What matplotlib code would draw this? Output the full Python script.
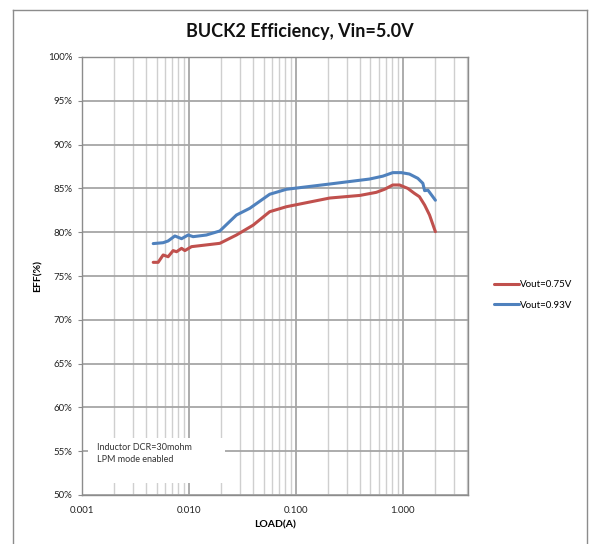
import matplotlib
matplotlib.use("Agg")
import matplotlib.pyplot as plt
from matplotlib.ticker import FixedLocator, NullFormatter, LogLocator
from matplotlib.lines import Line2D
from matplotlib.patches import Rectangle

plt.rcParams['font.family'] = ['Lato', 'DejaVu Sans']

title = "BUCK2 Efficiency, Vin=5.0V"
x_label = "LOAD(A)"
y_label = "EFF(%)"
series_names = ["Vout=0.75V", "Vout=0.93V"]
note_text = "Inductor DCR=30mohm\nLPM mode enabled"

load_075 = [0.00464, 0.00516, 0.00575, 0.0064, 0.00713, 0.00767, 0.00855, 0.00918,
            0.0106, 0.0195, 0.0279, 0.0399, 0.0571, 0.0819, 0.208, 0.40, 0.568,
            0.679, 0.811, 0.938, 1.12, 1.29, 1.44, 1.61, 1.79, 2.03]
eff_075 = [76.56, 76.56, 77.4, 77.2, 77.9, 77.77, 78.16, 77.9,
           78.35, 78.73, 79.68, 80.8, 82.34, 82.91, 83.9, 84.2, 84.55,
           84.9, 85.39, 85.39, 85.0, 84.44, 84.05, 83.1, 81.96, 80.06]

load_093 = [0.00464, 0.00575, 0.0064, 0.0074, 0.00855, 0.00985, 0.01097, 0.0146,
            0.0195, 0.0279, 0.0372, 0.0571, 0.0819, 0.208, 0.492, 0.655,
            0.811, 0.973, 1.16, 1.39, 1.55, 1.61, 1.73, 2.03]
eff_093 = [78.7, 78.8, 79.0, 79.57, 79.26, 79.68, 79.49, 79.68,
           80.14, 81.96, 82.73, 84.33, 84.9, 85.5, 86.07, 86.4,
           86.8, 86.8, 86.64, 86.15, 85.58, 84.74, 84.8, 83.65]

x_ticks = [0.001, 0.01, 0.1, 1.0]
x_tick_labels = ["0.001", "0.010", "0.100", "1.000"]
y_ticks = [50, 55, 60, 65, 70, 75, 80, 85, 90, 95, 100]
y_tick_labels = [f"{v}%" for v in y_ticks]

colors = ["#C0504D", "#4F81BD"]

W, H = 592, 544
fig = plt.figure(figsize=(W / 100, H / 100), dpi=100)
fig.patch.set_facecolor("white")

# outer chart border
fig.add_artist(Line2D([13 / W, 13 / W], [0, 1 - 10 / H], color="#8c8c8c", lw=1.0, transform=fig.transFigure))
fig.add_artist(Line2D([13 / W, 587 / W], [1 - 10 / H, 1 - 10 / H], color="#8c8c8c", lw=1.0, transform=fig.transFigure))
fig.add_artist(Line2D([587 / W, 587 / W], [0, 1 - 10 / H], color="#8c8c8c", lw=1.0, transform=fig.transFigure))

left, right, top, bottom = 82, 468, 57, 495
ax = fig.add_axes([left / W, 1 - bottom / H, (right - left) / W, (bottom - top) / H])
ax.set_xscale("log")
ax.set_xlim(0.001, 4.1)
ax.set_ylim(50, 100)

ax.xaxis.set_major_locator(FixedLocator(x_ticks))
ax.set_xticklabels(x_tick_labels)
ax.xaxis.set_minor_locator(LogLocator(base=10, subs=range(2, 10)))
ax.xaxis.set_minor_formatter(NullFormatter())
ax.set_yticks(y_ticks)
ax.set_yticklabels(y_tick_labels)

ax.grid(which="major", axis="x", color="#a6a6a6", lw=1.3)
ax.grid(which="minor", axis="x", color="#cfcfcf", lw=1.0)
ax.grid(which="major", axis="y", color="#a6a6a6", lw=1.3)
ax.set_axisbelow(True)

ax.tick_params(axis="both", which="major", length=3, color="#8c8c8c", labelsize=7, labelcolor="#222222", pad=4)
ax.tick_params(axis="x", which="minor", length=0)
ax.tick_params(axis="x", which="major", length=0, pad=8)
for s in ax.spines.values():
    s.set_color("#8c8c8c")
    s.set_linewidth(1.0)

l1, = ax.plot(load_075, eff_075, color=colors[0], lw=2.2, label=series_names[0], solid_capstyle="round")
l2, = ax.plot(load_093, eff_093, color=colors[1], lw=2.2, label=series_names[1], solid_capstyle="round")

# note box covering grid
ax.add_patch(Rectangle((88 / W, 1 - 483 / H), (225 - 88) / W, (483 - 438) / H, transform=fig.transFigure,
                       facecolor="white", edgecolor="none", zorder=2.5))
fig.text(97 / W, 1 - 443 / H, note_text, fontsize=6.5, color="#333333", va="top", ha="left", linespacing=1.5)

ax.set_xlabel(x_label, fontsize=7.5, fontweight="bold", labelpad=4)
ax.set_ylabel(y_label, fontsize=7.5, fontweight="bold", labelpad=4)

fig.text(300 / W, 1 - 32 / H, title, fontsize=13, fontweight="bold", ha="center", va="center", color="#111111")

leg = fig.legend(handles=[l1, l2], loc="center left", bbox_to_anchor=(490 / W, 1 - 295 / H),
                 frameon=False, fontsize=7, handlelength=2.6, handletextpad=0.1, labelspacing=1.2,
                 borderaxespad=0)

fig.savefig("out.png", dpi=100)
